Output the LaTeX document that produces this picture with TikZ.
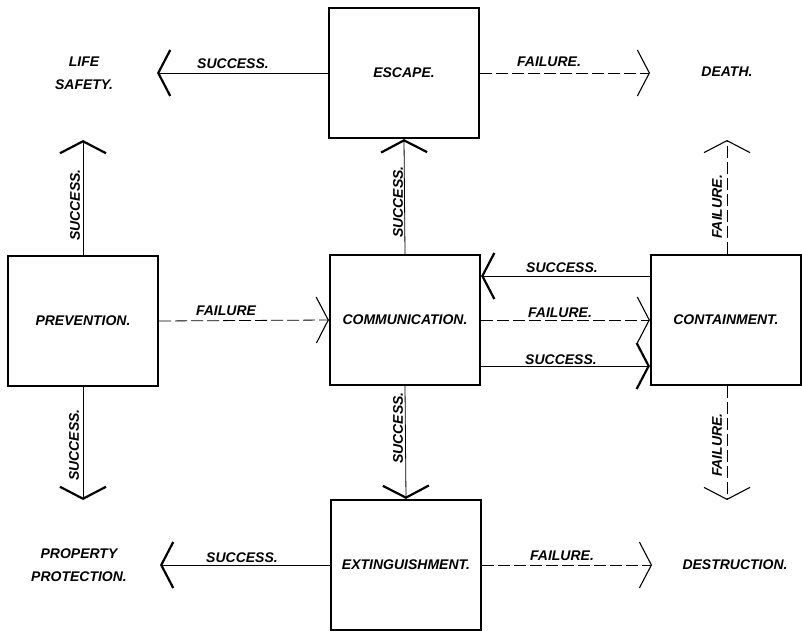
\documentclass[tikz,border=0pt]{standalone}
\usepackage{fontspec}
\setmainfont{Liberation Sans}
\usetikzlibrary{arrows.meta}
\begin{document}
\begin{tikzpicture}[x=1pt,y=-1pt,
  box/.style={draw, line width=2.2pt, minimum width=150pt, minimum height=130pt, inner sep=0pt,
    font=\fontsize{14}{18}\selectfont\itshape\bfseries},
  lbl/.style={inner sep=0pt, font=\fontsize{14}{18}\selectfont\itshape\bfseries},
  outc/.style={inner sep=0pt, align=center, font=\fontsize{14}{23}\selectfont\itshape\bfseries},
  succ/.style={line width=0.8pt, -{Straight Barb[length=12pt,width=46pt,line width=2.2pt]}},
  fail/.style={line width=0.8pt, dash pattern=on 12pt off 4pt, -{Straight Barb[length=12pt,width=46pt,line width=1.1pt]}}
]
\useasboundingbox (0,0) rectangle (802,631);
% boxes
\node[box] (escape) at (404,73) {ESCAPE.};
\node[box] (prev) at (83,321) {PREVENTION.};
\node[box] (comm) at (405,320) {COMMUNICATION.};
\node[box] (cont) at (726,320) {CONTAINMENT.};
\node[box] (ext) at (406,565) {EXTINGUISHMENT.};
% outcomes
\node[outc] (life) at (84,73) {LIFE\\SAFETY.};
\node[outc] (death) at (727,72) {DEATH.};
\node[outc] (prop) at (79,565) {PROPERTY\\PROTECTION.};
\node[outc] (destr) at (735,565) {DESTRUCTION.};
% free arrow ends
\coordinate (tLife) at (157,73);
\coordinate (tDeath) at (650,73);
\coordinate (tPrevUp) at (83,140);
\coordinate (tPrevDn) at (83,500);
\coordinate (tContUp) at (727,140);
\coordinate (tContDn) at (727,500);
\coordinate (tProp) at (160,565);
\coordinate (tDestr) at (652,565);
% connectors
\draw[succ] (escape.west) -- (tLife);
\draw[fail] (escape.east) -- (tDeath);
\draw[succ] (prev.north) -- (tPrevUp);
\draw[succ] (prev.south) -- (tPrevDn);
\draw[fail] (prev.east) -- (comm.west);
\draw[succ] (comm.north) -- (escape.south);
\draw[succ] (comm.south) -- (ext.north);
\draw[succ] ([yshift=44pt]cont.west) -- ([yshift=44pt]comm.east);
\draw[fail] (comm.east) -- (cont.west);
\draw[succ] ([yshift=-46pt]comm.east) -- ([yshift=-46pt]cont.west);
\draw[fail] ([xshift=1pt]cont.north) -- (tContUp);
\draw[fail] ([xshift=1pt]cont.south) -- (tContDn);
\draw[succ] (ext.west) -- (tProp);
\draw[fail] (ext.east) -- (tDestr);
% labels
\node[lbl] (l1) at (233,64) {SUCCESS.};
\node[lbl] (l2) at (549,62) {FAILURE.};
\node[lbl,rotate=90] (l3) at (75,205) {SUCCESS.};
\node[lbl,rotate=90] (l4) at (74,445) {SUCCESS.};
\node[lbl] (l5) at (226,311) {FAILURE};
\node[lbl,rotate=90] (l6) at (398,202) {SUCCESS.};
\node[lbl,rotate=90] (l7) at (398,428) {SUCCESS.};
\node[lbl] (l8) at (562,268) {SUCCESS.};
\node[lbl] (l9) at (560,313) {FAILURE.};
\node[lbl] (l10) at (561,360) {SUCCESS.};
\node[lbl,rotate=90] (l11) at (717,207) {FAILURE.};
\node[lbl,rotate=90] (l12) at (717,445) {FAILURE.};
\node[lbl] (l13) at (242,558) {SUCCESS.};
\node[lbl] (l14) at (562,556) {FAILURE.};
\end{tikzpicture}
\end{document}
